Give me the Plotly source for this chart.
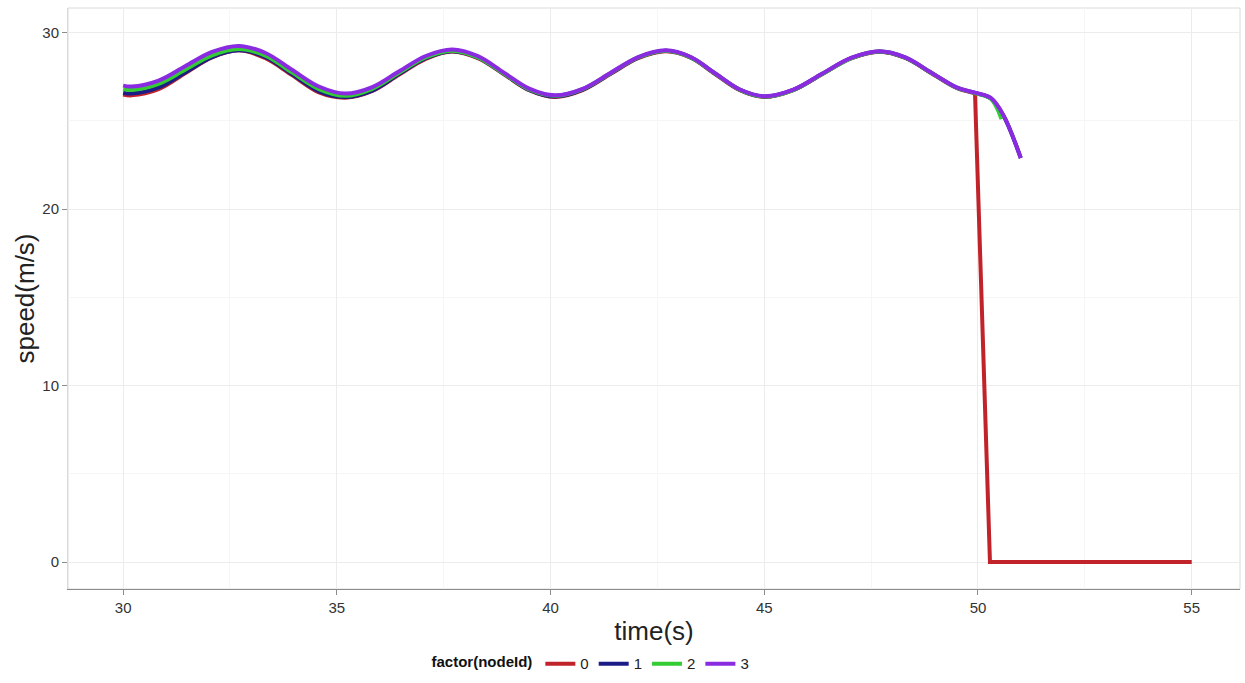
import plotly.graph_objects as go

# ---- data ----
time_knots = [30.0, 30.2, 30.83, 31.45, 32.08, 32.7, 33.33, 33.95, 34.58, 35.2,
              35.83, 36.45, 37.08, 37.7, 38.3, 38.9, 39.5, 40.1, 40.75, 41.4,
              42.05, 42.7, 43.28, 43.85, 44.43, 45.0, 45.68, 46.35, 47.03, 47.7,
              48.3, 48.9, 49.5, 49.93]

speed_node0 = [26.5, 26.45, 26.8, 27.7, 28.6, 29.0, 28.55, 27.6, 26.62, 26.32,
               26.7, 27.62, 28.52, 28.93, 28.55, 27.66, 26.74, 26.36, 26.75, 27.66,
               28.56, 28.95, 28.58, 27.66, 26.74, 26.36, 26.74, 27.64, 28.54, 28.92,
               28.57, 27.72, 26.87, 26.57]
node0_stop_time = [49.93, 50.28, 55.0]
node0_stop_speed = [26.57, 0.0, 0.0]

speed_node1 = [26.6, 26.55, 26.9, 27.75, 28.62, 29.0, 28.62, 27.65, 26.68, 26.35,
               26.72, 27.65, 28.55, 28.95, 28.58, 27.68, 26.76, 26.38, 26.77, 27.68,
               28.58, 28.97, 28.6, 27.68, 26.76, 26.38, 26.76, 27.66, 28.56, 28.94,
               28.59, 27.74, 26.89, 26.59]
node1_tail_time = [50.3, 50.6, 51.0]
node1_tail_speed = [26.28, 25.28, 22.9]

speed_node2 = [26.8, 26.75, 27.1, 27.9, 28.72, 29.08, 28.7, 27.75, 26.8, 26.42,
               26.82, 27.72, 28.6, 28.98, 28.6, 27.7, 26.78, 26.42, 26.8, 27.7,
               28.6, 28.98, 28.6, 27.68, 26.76, 26.38, 26.75, 27.65, 28.55, 28.93,
               28.58, 27.73, 26.88, 26.58]
node2_tail_time = [50.3, 50.55]
node2_tail_speed = [26.25, 25.1]

speed_node3 = [27.0, 26.95, 27.29, 28.1, 28.91, 29.25, 28.85, 27.9, 26.95, 26.55,
               26.92, 27.8, 28.68, 29.05, 28.67, 27.75, 26.83, 26.45, 26.82, 27.72,
               28.62, 29.0, 28.62, 27.7, 26.78, 26.4, 26.77, 27.67, 28.57, 28.95,
               28.6, 27.75, 26.9, 26.6]
node3_tail_time = [50.3, 50.6, 51.0]
node3_tail_speed = [26.3, 25.3, 22.9]

node_labels = ["0", "1", "2", "3"]
node_colors = ["#c1232b", "#1c1c86", "#33cc33", "#8a2be2"]

x_ticks = [30, 35, 40, 45, 50, 55]
y_ticks = [0, 10, 20, 30]

FONT = "Liberation Sans, Arial, sans-serif"
LW = 4

fig = go.Figure()

# node 0: smooth part + linear drop
fig.add_trace(go.Scatter(x=time_knots, y=speed_node0, mode="lines", name=node_labels[0],
                         legendgroup="0", line=dict(color=node_colors[0], width=LW, shape="spline")))
fig.add_trace(go.Scatter(x=node0_stop_time, y=node0_stop_speed, mode="lines", showlegend=False,
                         legendgroup="0", line=dict(color=node_colors[0], width=LW)))

fig.add_trace(go.Scatter(x=time_knots + node1_tail_time, y=speed_node1 + node1_tail_speed,
                         mode="lines", name=node_labels[1],
                         line=dict(color=node_colors[1], width=LW, shape="spline")))
fig.add_trace(go.Scatter(x=time_knots + node2_tail_time, y=speed_node2 + node2_tail_speed,
                         mode="lines", name=node_labels[2],
                         line=dict(color=node_colors[2], width=LW, shape="spline")))
fig.add_trace(go.Scatter(x=time_knots + node3_tail_time, y=speed_node3 + node3_tail_speed,
                         mode="lines", name=node_labels[3],
                         line=dict(color=node_colors[3], width=LW, shape="spline")))

fig.update_layout(
    width=1245, height=683,
    margin=dict(l=68, r=5, t=8, b=94, autoexpand=False),
    paper_bgcolor="white", plot_bgcolor="white",
    font=dict(family=FONT, color="#333333"),
    showlegend=True,
    legend=dict(orientation="h", xref="container", yref="container",
                xanchor="left", x=0.345, yanchor="middle", y=0.028,
                title=dict(text="<b>factor(nodeId)</b>", side="left",
                           font=dict(size=15, color="#111111")),
                font=dict(size=15, color="#222222"),
                itemwidth=30, tracegroupgap=0, itemclick=False),
    shapes=[dict(type="rect", xref="paper", yref="paper", x0=0, y0=0, x1=1, y1=1,
                 line=dict(color="#dadada", width=1), layer="below")],
)

fig.update_xaxes(
    automargin=False,
    range=[28.71, 56.13], tickvals=x_ticks, ticktext=[str(v) for v in x_ticks],
    showgrid=True, gridcolor="#ececec", gridwidth=1,
    minor=dict(dtick=2.5, tick0=27.5, showgrid=True, gridcolor="#f6f6f6", gridwidth=1),
    showline=True, linecolor="#8c8c8c", linewidth=1.2,
    ticks="outside", ticklen=5, tickcolor="#8c8c8c",
    tickfont=dict(size=15, color="#333333", family=FONT),
    zeroline=False,
    title=dict(text="time(s)", font=dict(size=26, color="#222222", family=FONT), standoff=6),
)
fig.update_yaxes(
    automargin=False,
    range=[-1.53, 31.4], tickvals=y_ticks, ticktext=[str(v) for v in y_ticks],
    showgrid=True, gridcolor="#ececec", gridwidth=1,
    minor=dict(dtick=5, tick0=5, showgrid=True, gridcolor="#f6f6f6", gridwidth=1),
    showline=True, linecolor="#dadada", linewidth=1,
    ticks="outside", ticklen=5, tickcolor="#8c8c8c",
    tickfont=dict(size=15, color="#333333", family=FONT),
    zeroline=False,
    title=dict(text="speed(m/s)", font=dict(size=26, color="#222222", family=FONT), standoff=0),
)

fig.write_html(
    "out.html",
    config={"responsive": False, "displayModeBar": False},
    post_script="document.body.style.margin='0';document.body.style.overflow='hidden';",
)
